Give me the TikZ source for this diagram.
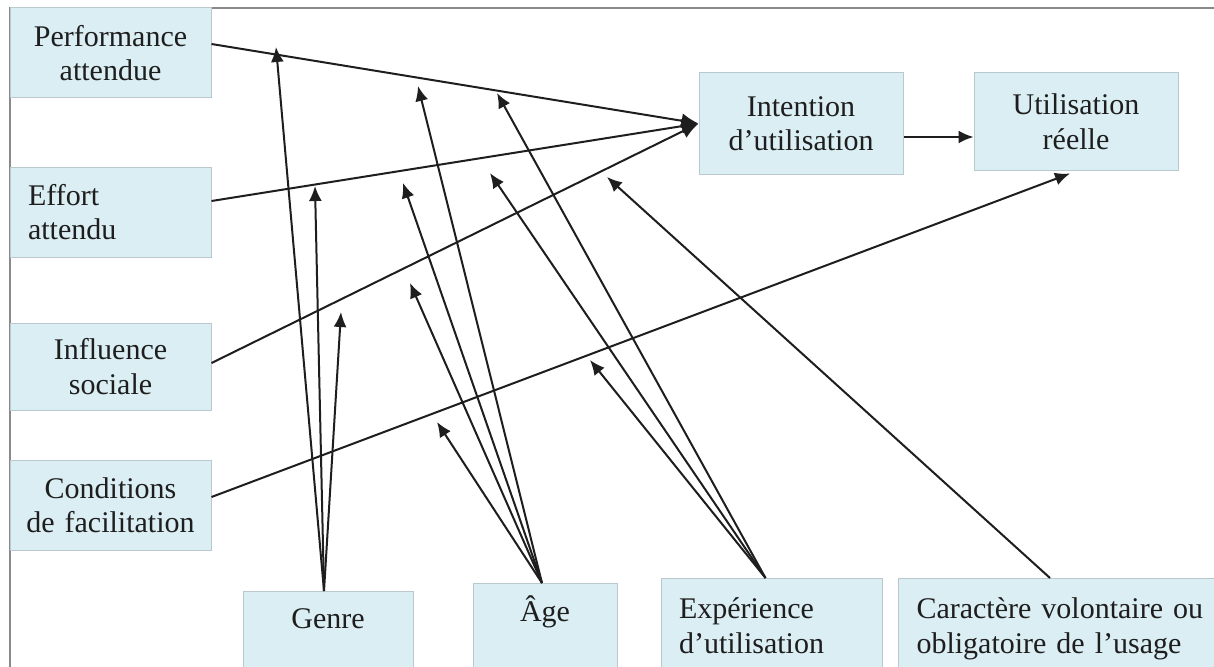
\documentclass[tikz,border=0pt]{standalone}
\usepackage{fontspec}
\setmainfont{Liberation Serif}
\usetikzlibrary{arrows.meta,calc}
\definecolor{boxfill}{HTML}{DAEEF3}
\definecolor{boxline}{HTML}{B9C8CE}
\definecolor{framegray}{HTML}{8A8A8A}
\definecolor{ink}{HTML}{1E1E1E}
\tikzset{
  box/.style={draw=boxline, line width=1pt, fill=boxfill, inner sep=0pt, text=ink,
    font=\fontsize{30}{34.5}\selectfont},
  cbox/.style={box, align=center},
  lbox/.style={box, align=left, inner xsep=18pt},
  link/.style={draw=ink, line width=2pt, -{Latex[length=15pt,width=13pt]}},
  main/.style={draw=ink, line width=2pt, -{Latex[length=17pt,width=15pt]}}
}

\begin{document}
\begin{tikzpicture}[x=1pt,y=-1pt]
\clip (0,0) rectangle (1214,666);
\fill [white] (0,0) rectangle (1214,666);
\draw [framegray, line width=2pt] (10,700) -- (10,8) -- (1240,8);

% determinants
\node [cbox, text width=201pt, minimum height=90pt] (perf) at (110.5,53) {Performance\\attendue};
\node [lbox, text width=165pt, minimum height=90pt] (effort) at (110.5,212) {Effort\\attendu};
\node [cbox, text width=201pt, minimum height=87pt] (influence) at (110.5,366.5) {Influence\\sociale};
\node [cbox, text width=201pt, minimum height=90pt] (conditions) at (110.5,505) {Conditions\\de facilitation};

\node [cbox, text width=204pt, minimum height=101pt] (intention) at (801,123.5) {Intention\\d’utilisation};
\node [cbox, text width=204pt, minimum height=97pt] (usage) at (1076,121.5) {Utilisation\\réelle};

% moderators
\node [cbox, anchor=north, text width=170pt, text height=37pt, text depth=100pt] (genre) at (328,591) {Genre};
\node [cbox, anchor=north, text width=144pt, text height=38pt, text depth=100pt] (age) at (545,583) {Âge};
\node [lbox, anchor=north, text width=185pt, text height=40pt, text depth=100pt] (experience) at (771.5,578) {Expérience\\d’utilisation};
\node [lbox, anchor=north west, text width=310pt, text height=40pt, text depth=100pt] (vol) at (898,578) {Caractère volontaire ou\\obligatoire de l’usage};

\draw [main] ($(perf.east)+(0,-9)$) -- (intention.west);
\draw [main] ($(effort.east)+(0,-11)$) -- (intention.west);
\draw [main] ($(influence.east)+(0,-3.5)$) -- (intention.west);
\draw [link] ($(intention.east)+(0,13.5)$) -- ($(usage.west)+(0,15.5)$);
\draw [link] ($(conditions.east)+(0,-8)$) -- ($(usage.south)+(-6,3)$);

% arrow ends on the paths
\coordinate (gp) at (276,47);
\coordinate (ge) at (315,186);
\coordinate (gi) at (341,312);
\coordinate (ap) at (418,86);
\coordinate (ae) at (403,183);
\coordinate (ai) at (410,283);
\coordinate (ac) at (437,422);
\coordinate (ep) at (497,93);
\coordinate (ee) at (490,173);
\coordinate (ec) at (590,360);
\coordinate (vi) at (607,177);

\draw [link] ($(genre.north)+(-4,0)$) -- (gp);
\draw [link] ($(genre.north)+(-4,0)$) -- (ge);
\draw [link] ($(genre.north)+(-4,0)$) -- (gi);
\draw [link] ($(age.north)+(-3,0)$) -- (ap);
\draw [link] ($(age.north)+(-3,0)$) -- (ae);
\draw [link] ($(age.north)+(-3,0)$) -- (ai);
\draw [link] ($(age.north)+(-3,0)$) -- (ac);
\draw [link] ($(experience.north)+(-6,0)$) -- (ep);
\draw [link] ($(experience.north)+(-6,0)$) -- (ee);
\draw [link] ($(experience.north)+(-6,0)$) -- (ec);
\draw [link] ($(vol.north west)+(152,0)$) -- (vi);
\end{tikzpicture}
\end{document}
